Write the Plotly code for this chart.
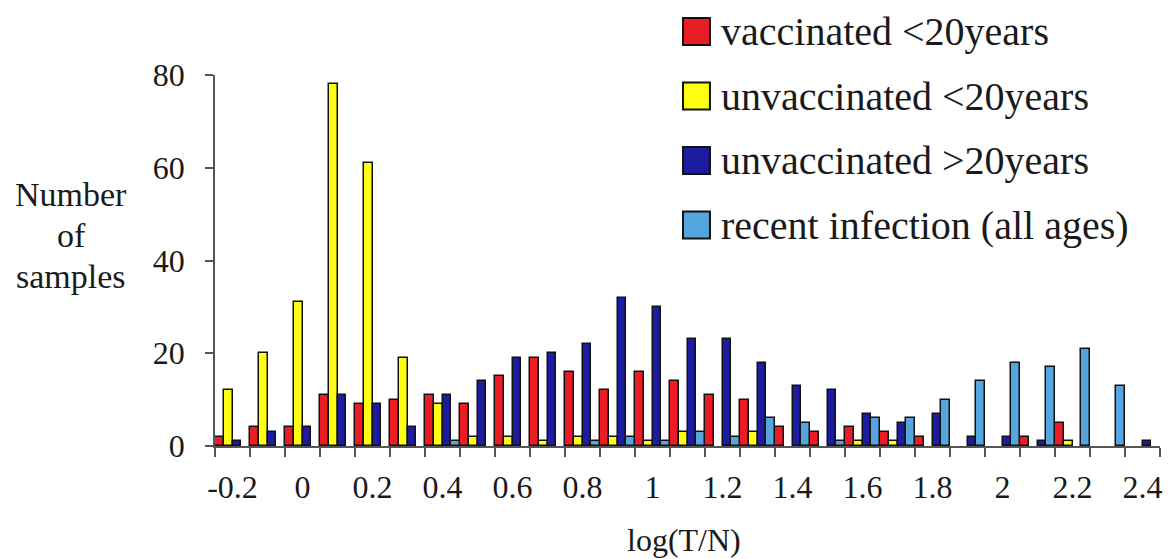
import plotly.graph_objects as go

# Histogram bins of log(T/N) and sample counts per group
log_tn = [-0.2, -0.1, 0.0, 0.1, 0.2, 0.3, 0.4, 0.5, 0.6, 0.7, 0.8, 0.9, 1.0,
          1.1, 1.2, 1.3, 1.4, 1.5, 1.6, 1.7, 1.8, 1.9, 2.0, 2.1, 2.2, 2.3, 2.4]
vaccinated_lt20 = [2, 4, 4, 11, 9, 10, 11, 9, 15, 19, 16, 12, 16, 14, 11, 10,
                   4, 3, 4, 3, 2, 0, 0, 2, 5, 0, 0]
unvaccinated_lt20 = [12, 20, 31, 78, 61, 19, 9, 2, 2, 1, 2, 2, 1, 3, 0, 3,
                     0, 0, 1, 1, 0, 0, 0, 0, 1, 0, 0]
unvaccinated_gt20 = [1, 3, 4, 11, 9, 4, 11, 14, 19, 20, 22, 32, 30, 23, 23, 18,
                     13, 12, 7, 5, 7, 2, 2, 1, 0, 0, 1]
recent_infection = [0, 0, 0, 0, 0, 0, 1, 0, 0, 0, 1, 2, 1, 3, 2, 6,
                    5, 1, 6, 6, 10, 14, 18, 17, 21, 13, 0]

series_names = ["vaccinated <20years", "unvaccinated <20years",
                "unvaccinated >20years", "recent infection (all ages)"]
series_values = [vaccinated_lt20, unvaccinated_lt20, unvaccinated_gt20, recent_infection]
series_colors = ["#ec1c24", "#ffff14", "#1c1ca0", "#55a6de"]

x_tick_vals = [-0.2, 0.0, 0.2, 0.4, 0.6, 0.8, 1.0, 1.2, 1.4, 1.6, 1.8, 2.0, 2.2, 2.4]
x_tick_text = ["-0.2", "0", "0.2", "0.4", "0.6", "0.8", "1", "1.2", "1.4",
               "1.6", "1.8", "2", "2.2", "2.4"]
y_tick_vals = [0, 20, 40, 60, 80]
y_title_lines = ["Number", "of", "samples"]

FONT = "Liberation Serif, Times New Roman, serif"
TXT = "#1a1a1a"

W, H = 1169, 559
ML, MR, MT, MB = 215, 7, 75, 113
PW, PH = W - ML - MR, H - MT - MB


def px_x(px):
    return (px - ML) / PW


def px_y(py):
    return (H - MB - py) / PH


fig = go.Figure()
for name, vals, col in zip(series_names, series_values, series_colors):
    # empty bins are left blank instead of drawing a flat outline
    fig.add_trace(go.Bar(
        x=log_tn, y=[v if v else None for v in vals], name=name, showlegend=False,
        marker=dict(color=col, line=dict(color="#111111", width=1.5)),
    ))

# Legend: outlined colour squares with labels
shapes = []
annotations = []
row0, row_step, sq = 31.5, 64.5, 27
for i, (name, col) in enumerate(zip(series_names, series_colors)):
    cy = row0 + i * row_step
    shapes.append(dict(
        type="rect", xref="paper", yref="paper",
        x0=px_x(684), x1=px_x(684 + sq), y0=px_y(cy + sq / 2), y1=px_y(cy - sq / 2),
        fillcolor=col, line=dict(color="#111111", width=2),
    ))
    annotations.append(dict(
        text=name, xref="paper", yref="paper", x=px_x(720), y=px_y(cy),
        xanchor="left", yanchor="middle", showarrow=False,
        font=dict(family=FONT, size=40, color=TXT),
    ))

# Y axis title, one line per annotation
for i, line in enumerate(y_title_lines):
    annotations.append(dict(
        text=line, xref="paper", yref="paper",
        x=px_x(71), y=px_y(194 + i * 41), xanchor="center", yanchor="middle",
        showarrow=False, font=dict(family=FONT, size=34, color=TXT),
    ))

annotations.append(dict(
    text="log(T/N)", xref="paper", yref="paper",
    x=px_x(685), y=px_y(540), xanchor="center", yanchor="middle",
    showarrow=False, font=dict(family=FONT, size=32, color=TXT),
))

fig.update_layout(
    width=W, height=H,
    margin=dict(l=ML, r=MR, t=MT, b=MB, pad=0),
    paper_bgcolor="white", plot_bgcolor="white",
    barmode="group", bargap=0, bargroupgap=0,
    showlegend=False,
    font=dict(family=FONT, size=32, color=TXT),
    shapes=shapes, annotations=annotations,
    xaxis=dict(
        range=[-0.25, 2.45], showgrid=False, zeroline=False,
        showline=True, linecolor="#555555", linewidth=1.5,
        tickmode="array", tickvals=x_tick_vals, ticktext=x_tick_text,
        ticks="", ticklabelstandoff=12,
        tickfont=dict(family=FONT, size=32, color=TXT),
        minor=dict(tick0=-0.25, dtick=0.1, ticks="outside", ticklen=9,
                   tickwidth=1.5, tickcolor="#555555", showgrid=False),
    ),
    yaxis=dict(
        range=[0, 80], showgrid=False, zeroline=False,
        showline=True, linecolor="#555555", linewidth=1.5,
        tickmode="array", tickvals=y_tick_vals,
        ticks="outside", ticklen=8, tickwidth=1.5, tickcolor="#555555",
        ticklabelstandoff=14,
        tickfont=dict(family=FONT, size=32, color=TXT),
    ),
)

fig.write_html("out.html")
